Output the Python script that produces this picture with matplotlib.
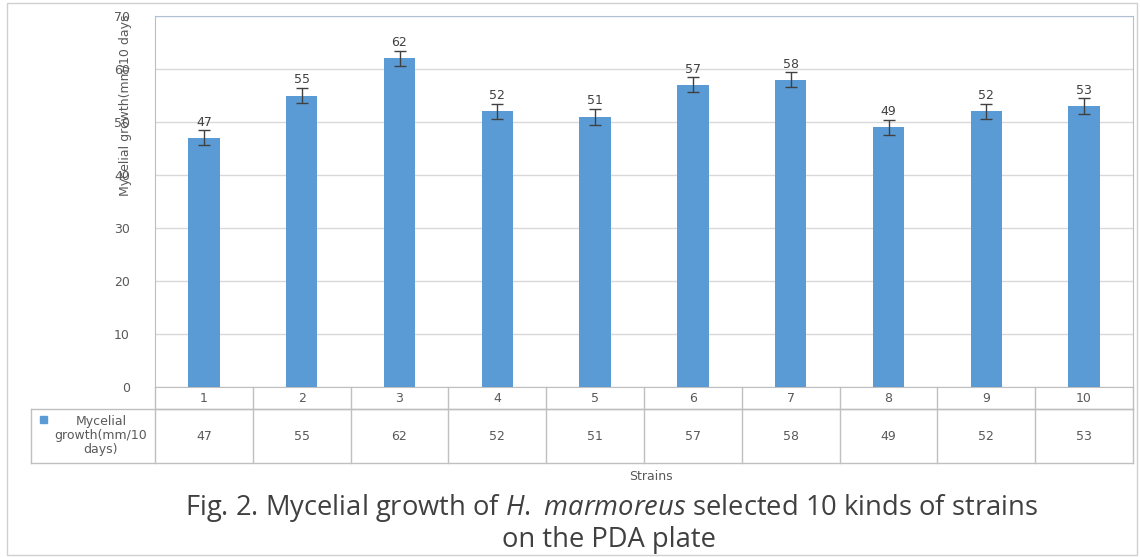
import numpy as np
import matplotlib
matplotlib.use('Agg')
import matplotlib.pyplot as plt
import matplotlib.transforms as mtrans
from matplotlib.patches import Rectangle

######## DATA ############
strains = ['1', '2', '3', '4', '5', '6', '7', '8', '9', '10']
growth = [47, 55, 62, 52, 51, 57, 58, 49, 52, 53]
errs = [1.4, 1.4, 1.4, 1.4, 1.5, 1.4, 1.4, 1.4, 1.4, 1.5]
seriesName = 'Mycelial\ngrowth(mm/10\ndays)'
yTicks = [0, 10, 20, 30, 40, 50, 60, 70]
##########################

plt.rcParams['mathtext.fontset'] = 'custom'
plt.rcParams['mathtext.it'] = 'Open Sans:italic'
plt.rcParams['mathtext.rm'] = 'Open Sans'

W, H = 1140, 557
barColor = '#5B9BD5'
textColor = '#595959'
gridColor = '#D9D9D9'
tableColor = '#BFBFBF'

fig = plt.figure(figsize=(W/100, H/100), dpi=100)
fig.patch.set_facecolor('white')

# outer frame
fig.add_artist(Rectangle((7/W, 2/H), 1130/W, 552/H, transform=fig.transFigure,
                         fill=False, edgecolor='#D0D0D0', lw=1))

left, right, top, bottom = 155, 1133, 16, 387
ax = fig.add_axes([left/W, 1-bottom/H, (right-left)/W, (bottom-top)/H])

x = np.arange(len(strains))
ax.bar(x, growth, width=0.32, color=barColor, zorder=3)
ax.errorbar(x, growth, yerr=errs, fmt='none', ecolor='#404040', elinewidth=1,
            capsize=4, capthick=1, zorder=4)
for xi, v, e in zip(x, growth, errs):
    ax.text(xi, v + e + 0.3, str(v), ha='center', va='bottom', fontsize=9,
            color='#404040', zorder=5)

ax.set_xlim(-0.5, len(strains) - 0.5)
ax.set_ylim(0, 70)
ax.set_yticks(yTicks)
ax.set_xticks([])
ax.tick_params(axis='y', length=0, labelsize=9, labelcolor=textColor, pad=18)
ax.yaxis.grid(True, color=gridColor, lw=1, zorder=0)
for s in ['left', 'right', 'top']:
    ax.spines[s].set_color('#AFC0D6')
ax.spines['bottom'].set_color(tableColor)
# label sits over the upper tick labels, as in the original
ax.set_ylabel('Mycelial growth(mm/10 days', fontsize=9, color=textColor)
ax.yaxis.set_label_coords(-0.024, 0.76)

######## DATA TABLE ############
trans = mtrans.blended_transform_factory(ax.transData, ax.transAxes)
plotH = bottom - top
yHead = -(409 - bottom) / plotH
yData = -(463 - bottom) / plotH
xTabLeft = -0.5 - (left - 31) / ((right - left) / len(strains))

kw = dict(transform=trans, color=tableColor, lw=1, clip_on=False)
ax.plot([-0.5, len(strains) - 0.5], [yHead, yHead], **kw)
ax.plot([xTabLeft, len(strains) - 0.5], [yHead, yHead], **kw)
ax.plot([xTabLeft, len(strains) - 0.5], [yData, yData], **kw)
ax.plot([xTabLeft, xTabLeft], [yHead, yData], **kw)
for i in range(len(strains) + 1):
    ax.plot([i - 0.5, i - 0.5], [0, yData], **kw)

for xi, s, v in zip(x, strains, growth):
    ax.text(xi, yHead / 2, s, transform=trans, ha='center', va='center',
            fontsize=9, color=textColor)
    ax.text(xi, (yHead + yData) / 2, str(v), transform=trans, ha='center',
            va='center', fontsize=9, color=textColor)

ax.add_patch(Rectangle((xTabLeft + 0.09, -(423 - bottom) / plotH), 0.07, 7 / plotH,
                       transform=trans, color=barColor, clip_on=False))
ax.text((xTabLeft - 0.5) / 2 + 0.08, (yHead + yData) / 2, seriesName, transform=trans,
        ha='center', va='center', fontsize=9, color=textColor, linespacing=1.1)

fig.text(651/W, 1-476/H, 'Strains', ha='center', va='center', fontsize=9, color=textColor)

######## CAPTION ############
capFont = ['Open Sans', 'DejaVu Sans']
fig.text(611/W, 1-508/H, r'Fig. 2. Mycelial growth of $\mathit{H.\ marmoreus}$ selected 10 kinds of strains',
         ha='center', va='center', fontsize=19.7, color='#404040', family=capFont)
fig.text(609/W, 1-540/H, 'on the PDA plate', ha='center', va='center',
         fontsize=19.7, color='#404040', family=capFont)

plt.savefig('out.png', dpi=100)
